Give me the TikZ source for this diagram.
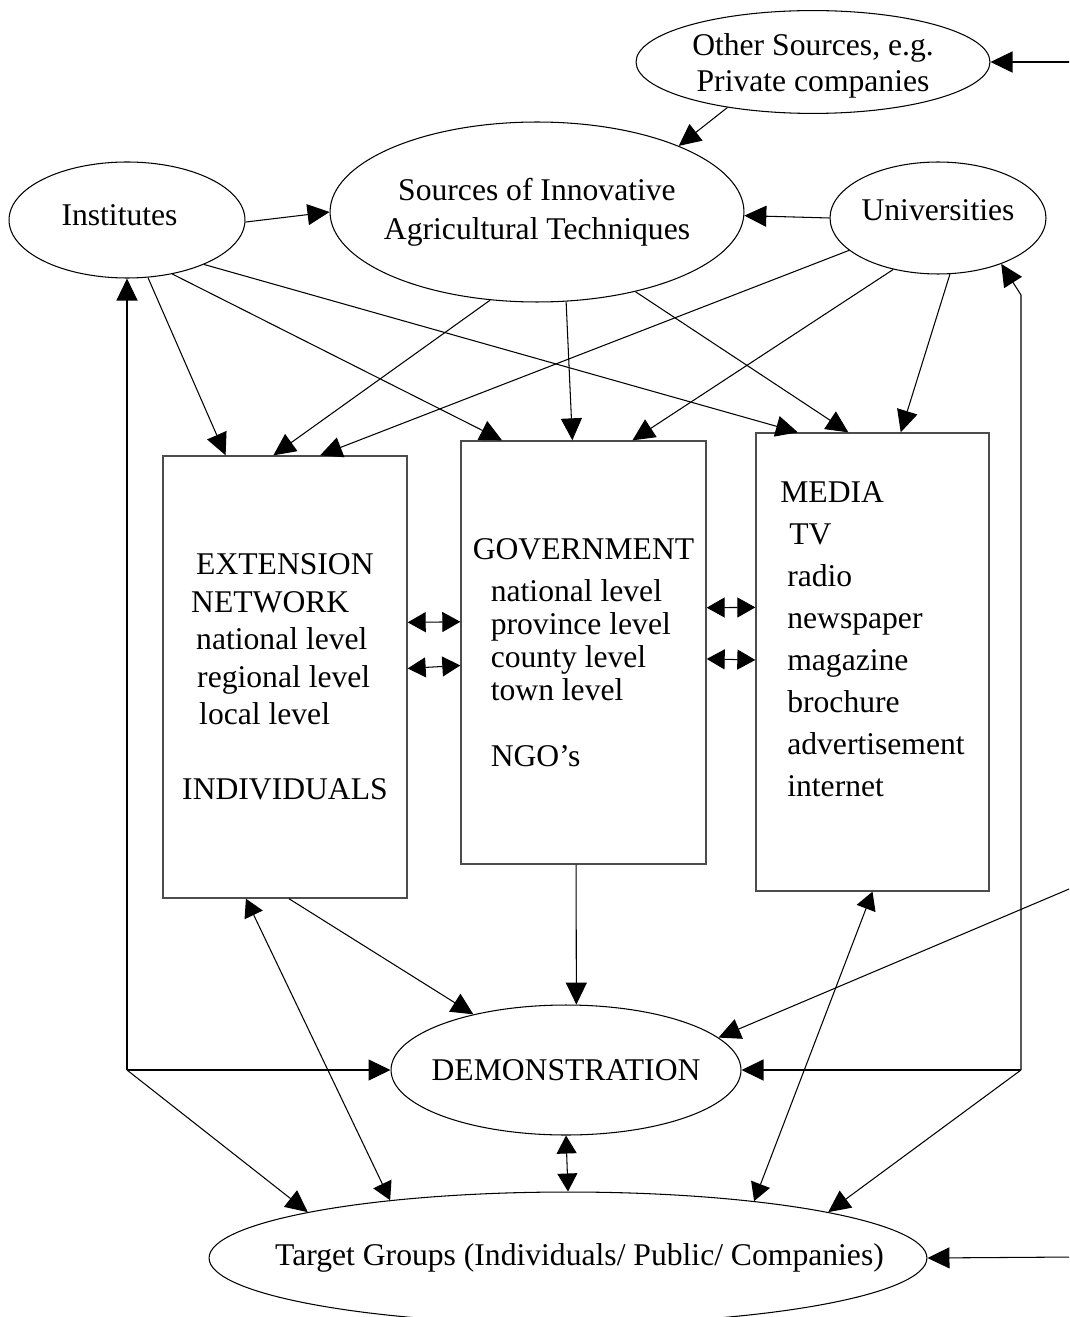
\documentclass[tikz,border=0pt]{standalone}
\usepackage{fontspec}
\setmainfont{Liberation Serif}
\usepackage{tikz}
\usetikzlibrary{arrows.meta}
\usetikzlibrary{shapes.geometric}
\newcommand{\zw}[1]{\makebox[0pt]{#1}}

\begin{document}
\begin{tikzpicture}[x=0.02cm,y=-0.02cm,
  font=\fontsize{18}{21}\selectfont,
  oval/.style={ellipse,draw,line width=0.6pt,inner sep=0pt,align=center},
  panel/.style={rectangle,draw=black!70,line width=0.8pt,inner sep=0pt,align=left},
  link/.style={line width=0.6pt,-{Triangle[length=0.44cm,width=0.42cm]}},
  both/.style={line width=0.6pt,{Triangle[length=0.36cm,width=0.4cm]}-{Triangle[length=0.36cm,width=0.4cm]}}]
\useasboundingbox (0,0) rectangle (1069,1317);
\clip (0,0) rectangle (1069,1317);
\node [oval,minimum width=7.08cm,minimum height=2.04cm,text height=1.32cm,font=\fontsize{18}{20.5}\selectfont] (other) at (813,62) {\zw{Other Sources, e.g.}\\\zw{Private companies}};
\node [oval,minimum width=8.28cm,minimum height=3.6cm,font=\fontsize{18}{22.2}\selectfont] (src) at (537,212) {\zw{Sources of Innovative}\\\zw{Agricultural Techniques}};
\node [oval,minimum width=4.72cm,minimum height=2.32cm,text depth=0.2cm] (inst) at (127,220) {\zw{Institutes\hspace*{0.3cm}}};
\node [oval,minimum width=4.32cm,minimum height=2.24cm,text depth=0.32cm] (univ) at (938,218) {\zw{Universities}};
\node [panel,minimum width=4.88cm,minimum height=8.84cm,font=\fontsize{18}{21.3}\selectfont] (ext) at (285,677) {\hspace*{0.28cm}EXTENSION\\\hspace*{0.18cm}NETWORK\\\hspace*{0.28cm}national level\\\hspace*{0.3cm}regional level\\\hspace*{0.34cm}local level\\[0.75cm]INDIVIDUALS};
\node [panel,minimum width=4.9cm,minimum height=8.46cm,font=\fontsize{18}{18.8}\selectfont] (gov) at (583.5,652.5) {GOVERNMENT\\[0.18cm]\hspace*{0.36cm}national level\\\hspace*{0.36cm}province level\\\hspace*{0.36cm}county level\\\hspace*{0.36cm}town level\\[0.66cm]\hspace*{0.36cm}NGO's};
\node [panel,minimum width=4.66cm,minimum height=9.16cm,text depth=0.9cm,font=\fontsize{18}{23.9}\selectfont] (media) at (872.5,662) {MEDIA\\\hspace*{0.18cm}TV\\\hspace*{0.14cm}radio\\\hspace*{0.14cm}newspaper\\\hspace*{0.14cm}magazine\\\hspace*{0.14cm}brochure\\\hspace*{0.14cm}advertisement\\\hspace*{0.14cm}internet};
\node [oval,minimum width=7cm,minimum height=2.6cm] (demo) at (566,1070) {\zw{DEMONSTRATION}};
\node [oval,minimum width=14.36cm,minimum height=2.64cm] (target) at (568,1258) {\zw{\hspace*{0.46cm}Target Groups (Individuals/ Public/ Companies)}};
\coordinate (e1) at (1075,62);
\coordinate (e2) at (1075,886.5);
\coordinate (e3) at (1075,1257);
\coordinate (cl) at (127,1070);
\coordinate (cr) at (1021,1070);
\coordinate (cu) at (1021,295);
\draw [link] (e1) -- (other.east);
\draw [link] (other.208.5) -- (src.25);
\draw [link] (inst.-1) -- (src.180.8);
\draw [link] (univ.west) -- (src.-1.7);
\draw [link] (inst.-70) -- (ext.105);
\draw [link] (inst.-50) -- (gov.111);
\draw [link] (inst.-30) -- (media.108);
\draw [link] (src.-118) -- (ext.93);
\draw [link] (src.-72.7) -- (gov.93);
\draw [link] (src.-39) -- (media.96);
\draw [link] (univ.200) -- (ext.81);
\draw [link] (univ.229) -- (gov.77);
\draw [link] (univ.282) -- (media.83);
\draw [both] (ext.24) -- (gov.166.5);
\draw [both] (ext.4.7) -- (gov.186.8);
\draw [both] (gov.20) -- (media.155.1);
\draw [both] (gov.-3.5) -- (media.179);
\draw [link] (ext.-89) -- (demo.149);
\draw [link] (gov.-92) -- (demo.81);
\draw [link] (e2) -- (demo.12.5);
\draw [link] (cl) -- (inst.south);
\draw [link] (cl) -- (demo.west);
\draw [link] (cl) -- (target.170);
\draw [link] (cr) -- (cu) -- (univ.-36);
\draw [link] (cr) -- (demo.east);
\draw [link] (cr) -- (target.10);
\draw [both] (ext.-100) -- (target.162);
\draw [both] (media.-90) -- (target.17.5);
\draw [both] (demo.south) -- (target.north);
\draw [link] (e3) -- (target.east);
\end{tikzpicture}
\end{document}
